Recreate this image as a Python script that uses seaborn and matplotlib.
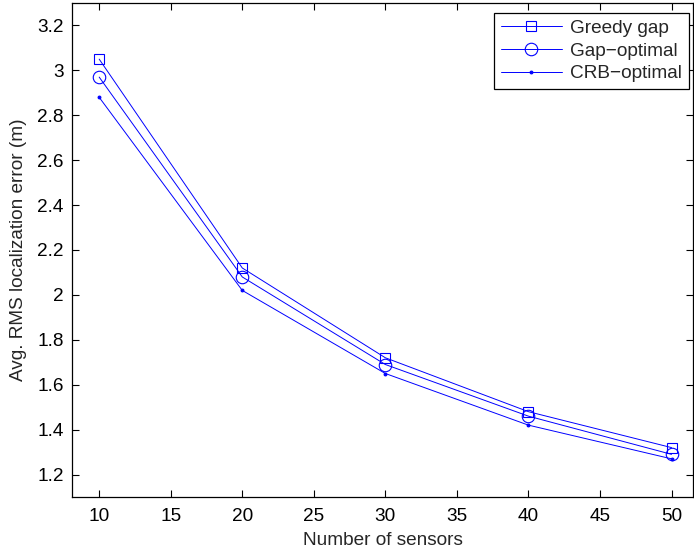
import matplotlib
matplotlib.use("Agg")
import matplotlib.pyplot as plt
import seaborn as sns
import pandas as pd

sensors = [10, 20, 30, 40, 50]
greedy_gap = [3.05, 2.12, 1.72, 1.48, 1.32]
gap_optimal = [2.97, 2.08, 1.69, 1.46, 1.29]
crb_optimal = [2.88, 2.02, 1.65, 1.42, 1.27]
series_names = ["Greedy gap", "Gap\u2212optimal", "CRB\u2212optimal"]
x_ticks = [10, 15, 20, 25, 30, 35, 40, 45, 50]
y_ticks = [1.2, 1.4, 1.6, 1.8, 2.0, 2.2, 2.4, 2.6, 2.8, 3.0, 3.2]
y_tick_labels = ["1.2", "1.4", "1.6", "1.8", "2", "2.2", "2.4", "2.6", "2.8", "3", "3.2"]

sns.set_style("ticks")
plt.rcParams['font.family'] = ['Liberation Sans', 'DejaVu Sans']

fs = 13.7
fig = plt.figure(figsize=(6.94, 5.54), dpi=100)
ax = fig.add_axes([72 / 694, 57 / 554, 621 / 694, 494 / 554])

df = pd.DataFrame({
    "x": sensors * 3,
    "y": greedy_gap + gap_optimal + crb_optimal,
    "s": [series_names[0]] * 5 + [series_names[1]] * 5 + [series_names[2]] * 5,
})

blue = (0, 0, 1)
markers = {series_names[0]: "s", series_names[1]: "o", series_names[2]: "."}
sizes = {series_names[0]: 7, series_names[1]: 9, series_names[2]: 4}
for name in series_names:
    sub = df[df["s"] == name]
    sns.lineplot(data=sub, x="x", y="y", ax=ax, color=blue, lw=0.7,
                 marker=markers[name], markersize=sizes[name],
                 markerfacecolor="none" if name != series_names[2] else blue,
                 markeredgecolor=blue, markeredgewidth=0.8, label=name)

ax.set_xlim(8.1, 51.5)
ax.set_ylim(1.1, 3.3)
ax.set_xticks(x_ticks)
ax.set_yticks(y_ticks)
ax.set_yticklabels(y_tick_labels)
ax.tick_params(axis="both", direction="in", top=True, right=True, length=5, width=0.8,
               labelsize=fs, colors="black")
ax.tick_params(axis="x", pad=8)
ax.tick_params(axis="y", pad=6)
for sp in ax.spines.values():
    sp.set_visible(True)
    sp.set_color("black")
    sp.set_linewidth(0.9)
ax.set_xlabel("Number of sensors", fontsize=fs, labelpad=5)
ax.set_ylabel("Avg. RMS localization error (m)", fontsize=fs, labelpad=7)

leg = ax.legend(loc="upper right", bbox_to_anchor=(0.9936, 0.9798), fontsize=fs,
                frameon=True, fancybox=False, edgecolor="black", framealpha=1,
                handlelength=3.2, borderaxespad=0.0, borderpad=0.35,
                labelspacing=0.28, handletextpad=0.45)
leg.get_frame().set_linewidth(0.9)

fig.savefig("out.png", dpi=100)
